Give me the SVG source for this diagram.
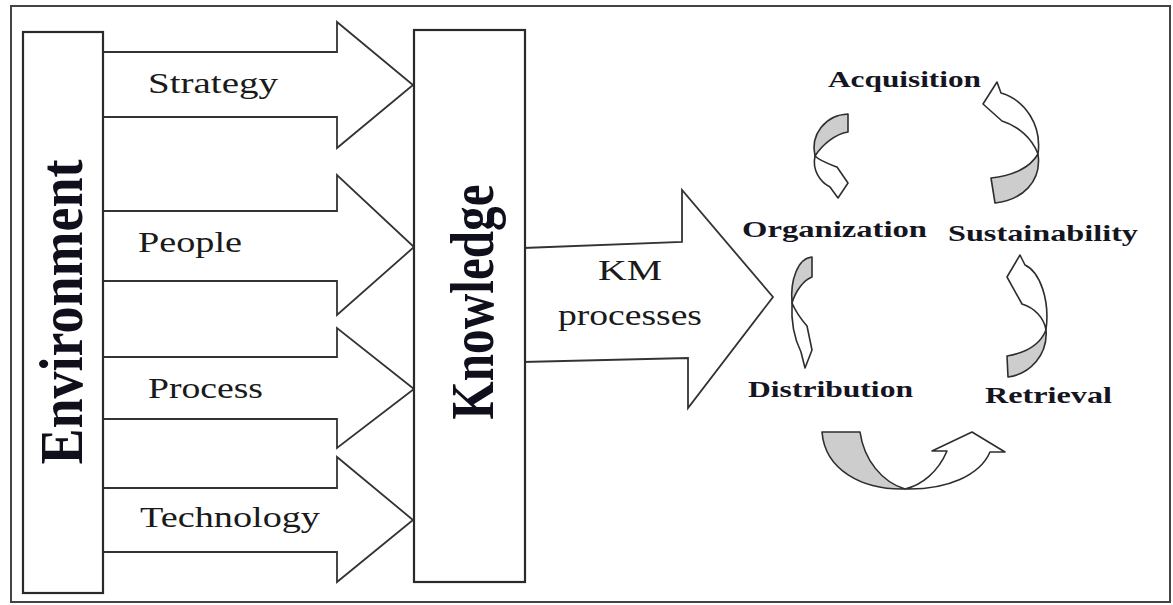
<svg xmlns="http://www.w3.org/2000/svg" width="1173" height="605" viewBox="0 0 1173 605">
  <style>
    .frame { fill: #ffffff; stroke: #444; stroke-width: 2; }
    .box { fill: #ffffff; stroke: #2a2a2a; stroke-width: 2.2; }
    .block { fill: #ffffff; stroke: #333; stroke-width: 1.8; stroke-linejoin: miter; }
    .lbl { font-family: "Liberation Serif", "Times New Roman", serif; font-size: 30px; fill: #1a1a1a; }
    .title { font-family: "Liberation Serif", "Times New Roman", serif; font-weight: bold; font-size: 62px; fill: #10101c; }
    .stage { font-family: "Liberation Serif", "Times New Roman", serif; font-weight: bold; font-size: 24px; fill: #15151f; }
    .turn-back { fill: #cdcdcd; stroke: #2e2e2e; stroke-width: 1.6; stroke-linejoin: round; }
    .turn-front { fill: #ffffff; stroke: #2e2e2e; stroke-width: 1.6; stroke-linejoin: round; }
  </style>

  <rect class="frame" x="11" y="6" width="1159" height="596"/>

  <!-- block arrows from the environment into knowledge, plus the KM arrow -->
  <g id="connectors">
    <polygon class="block" points="103,52 337,52 337,22 413,85 337,148 337,117 103,117"/>
    <polygon class="block" points="103,211 337,211 337,175 414,247 337,315 337,281 103,281"/>
    <polygon class="block" points="103,357 337,357 337,328 414,389 337,448 337,419 103,419"/>
    <polygon class="block" points="103,488 337,488 337,457 413,520 337,582 337,552 103,552"/>
    <polygon class="block" points="523,248 682,242 682,190 773,297 688,408 688,358 523,362"/>

    <!-- curved cycle arrows: grey back face at the tail, white front face with the head -->
    <g id="turn-acq-org">
      <path class="turn-back" d="M848,114 C825,115 810,135 815,156 C822,145 835,134 848,132 Z"/>
      <path class="turn-front" d="M815,156 C812,170 820,182 830,187 L838,198 L848,183 L837,167 C829,164 820,161 815,156 Z"/>
    </g>
    <g id="turn-org-dist">
      <path class="turn-back" d="M812,257 C798,258 790,280 792,303 C796,290 804,280 812,277 Z"/>
      <path class="turn-front" d="M792,303 C791,322 795,340 801,352 L805,368 L812,350 L807,326 C800,318 795,310 792,303 Z"/>
    </g>
    <g id="turn-dist-retr">
      <path class="turn-back" d="M822,432 L860,432 C864,460 882,482 905,489 C862,490 825,470 822,432 Z"/>
      <path class="turn-front" d="M905,489 C948,490 980,475 990,452 L1005,452 L972,432 L932,451 L947,451 C938,472 922,485 905,489 Z"/>
    </g>
    <g id="turn-retr-sust">
      <path class="turn-back" d="M1046,330 C1040,345 1025,353 1007,356 L1008,377 C1030,374 1048,355 1046,330 Z"/>
      <path class="turn-front" d="M1020,255 L1007,277 L1022,304 C1035,308 1044,318 1046,330 C1050,300 1040,272 1025,265 Z"/>
    </g>
    <g id="turn-sust-acq">
      <path class="turn-back" d="M1038,154 C1030,168 1012,176 991,178 L995,203 C1022,200 1042,182 1038,154 Z"/>
      <path class="turn-front" d="M997,82 L983,104 L1002,121 C1018,126 1032,138 1038,154 C1042,125 1025,100 1001,93 Z"/>
    </g>
  </g>

  <g id="environment">
    <rect class="box" x="23" y="32" width="80" height="561"/>
    <text class="title" transform="translate(82,312) rotate(-90)" text-anchor="middle" textLength="305" lengthAdjust="spacingAndGlyphs">Environment</text>
  </g>

  <g id="knowledge">
    <rect class="box" x="414" y="30" width="111" height="552"/>
    <text class="title" transform="translate(493,302) rotate(-90)" text-anchor="middle" textLength="235" lengthAdjust="spacingAndGlyphs">Knowledge</text>
  </g>

  <g id="strategy"><text class="lbl" x="148" y="93" textLength="130" lengthAdjust="spacingAndGlyphs">Strategy</text></g>
  <g id="people"><text class="lbl" x="138" y="252" textLength="104" lengthAdjust="spacingAndGlyphs">People</text></g>
  <g id="process"><text class="lbl" x="148" y="398" textLength="115" lengthAdjust="spacingAndGlyphs">Process</text></g>
  <g id="technology"><text class="lbl" x="140" y="527" textLength="180" lengthAdjust="spacingAndGlyphs">Technology</text></g>

  <g id="km-processes">
    <text class="lbl" x="598" y="280" textLength="64" lengthAdjust="spacingAndGlyphs">KM</text>
    <text class="lbl" x="558" y="325" textLength="144" lengthAdjust="spacingAndGlyphs">processes</text>
  </g>

  <g id="acquisition"><text class="stage" x="828" y="87" textLength="153" lengthAdjust="spacingAndGlyphs">Acquisition</text></g>
  <g id="organization"><text class="stage" x="742" y="237" textLength="185" lengthAdjust="spacingAndGlyphs">Organization</text></g>
  <g id="sustainability"><text class="stage" x="948" y="241" textLength="190" lengthAdjust="spacingAndGlyphs">Sustainability</text></g>
  <g id="distribution"><text class="stage" x="748" y="397" textLength="165" lengthAdjust="spacingAndGlyphs">Distribution</text></g>
  <g id="retrieval"><text class="stage" x="985" y="403" textLength="127" lengthAdjust="spacingAndGlyphs">Retrieval</text></g>
</svg>
